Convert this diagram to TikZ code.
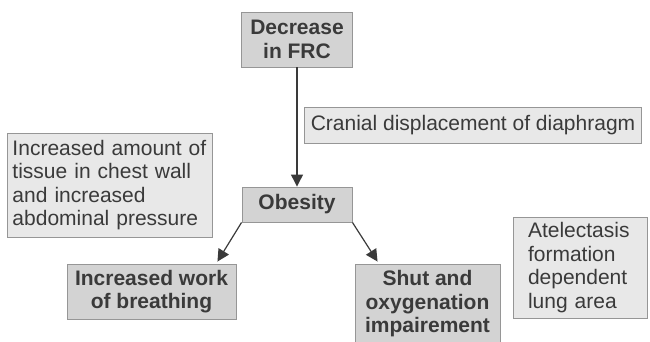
\documentclass[tikz,border=0pt]{standalone}
\usepackage{fontspec}
\setmainfont{Liberation Sans}
\usetikzlibrary{arrows.meta,positioning}
\definecolor{boxdark}{RGB}{211,211,211}
\definecolor{boxlight}{RGB}{232,232,232}
\definecolor{boxline}{RGB}{150,150,150}
\definecolor{inkgray}{RGB}{58,58,58}

\begin{document}
\begin{tikzpicture}[x=1pt,y=-1pt,
  cause/.style={draw=boxline,fill=boxdark,text=inkgray,line width=.9pt,inner sep=0pt,align=center,font=\fontsize{21}{23.5}\selectfont\bfseries},
  note/.style={draw=boxline,fill=boxlight,text=inkgray,line width=.9pt,inner ysep=0pt,align=left,font=\fontsize{21}{23.5}\selectfont},
  link/.style={-{Triangle[length=12pt,width=12pt]},draw=inkgray,line width=1.2pt}]
\useasboundingbox (0,0) rectangle (650,342);
\node[cause,minimum width=111pt,minimum height=55pt] (frc) at (297,39.5) {Decrease\\in FRC};
\node[cause,minimum width=110pt,minimum height=35pt] (obesity) at (297,204.5) {Obesity};
\node[cause,minimum width=169pt,minimum height=55pt] (work) at (151.5,291.5) {Increased work\\of breathing};
\node[cause,minimum width=145pt,minimum height=80pt] (shut) at (427.5,304) {Shut and\\oxygenation\\impairement};
\node[note,inner xsep=6pt,minimum height=36pt] (cranial) at (473,125) {Cranial displacement of diaphragm};
\node[note,text width=194pt,inner xsep=5.5pt,minimum height=104pt] (tissue) at (109.5,185) {Increased amount of\\tissue in chest wall\\and increased\\abdominal pressure};
\node[note,text width=104pt,inner xsep=15pt,minimum height=101pt] (atel) at (580,267.5) {Atelectasis\\formation\\dependent\\lung area};
\draw[link] (frc.south) -- (obesity.north);
\draw[link] (obesity.south west) -- ([xshift=-19pt,yshift=2pt]work.north east);
\draw[link] (obesity.south east) -- ([xshift=23pt,yshift=2pt]shut.north west);
\end{tikzpicture}
\end{document}
